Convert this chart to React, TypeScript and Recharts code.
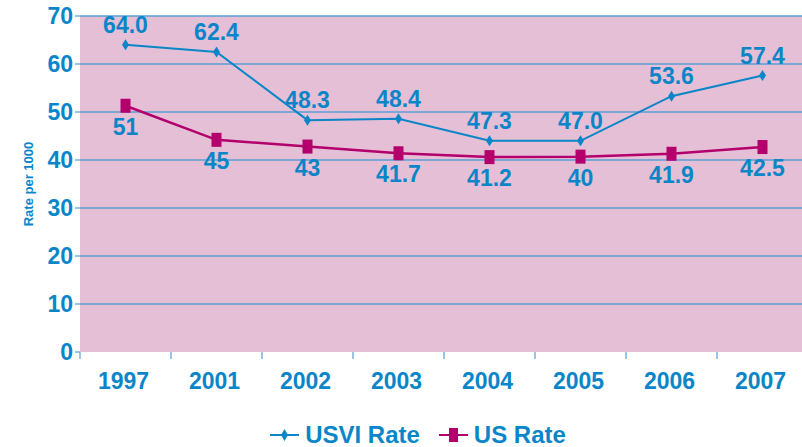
import { LineChart, Line, XAxis, YAxis, CartesianGrid, Legend, LabelList } from "recharts";

const years = ["1997", "2001", "2002", "2003", "2004", "2005", "2006", "2007"];
// plotted positions
const usviRate = [64.0, 62.5, 48.3, 48.6, 44.0, 44.0, 53.3, 57.6];
const usRate = [51.3, 44.2, 42.8, 41.4, 40.6, 40.7, 41.3, 42.7];
// printed data labels
const usviLabels = ["64.0", "62.4", "48.3", "48.4", "47.3", "47.0", "53.6", "57.4"];
const usLabels = ["51", "45", "43", "41.7", "41.2", "40", "41.9", "42.5"];
const yTicks = [0, 10, 20, 30, 40, 50, 60, 70];
const gridValues = [10, 20, 30, 40, 50, 60, 70];

const data = years.map((year, i) => ({
  year,
  usvi: usviRate[i],
  us: usRate[i],
  usviLabel: usviLabels[i],
  usLabel: usLabels[i],
}));

const BLUE = "#0a86c8";
const MAGENTA = "#b3006c";
const PINK = "#e4bfd6";
const GRID = "#5a9ed3";
const FONT = "'Liberation Sans', Arial, sans-serif";

const CHART_W = 810;
const CHART_H = 447;
const Y_W = 80;
const MARGIN = { top: 16, right: 2, left: 0, bottom: 0 };
const BAND = (CHART_W - MARGIN.left - MARGIN.right - Y_W) / years.length;

function XTick({ x, y, payload }: any) {
  return (
    <g>
      <line x1={x - BAND / 2} x2={x - BAND / 2} y1={y} y2={y + 7} stroke={GRID} strokeWidth={1.2} />
      <text x={x - 2} y={y + 37} textAnchor="middle" fill={BLUE} fontSize={23} fontWeight="bold" fontFamily={FONT}>
        {payload.value}
      </text>
    </g>
  );
}

function Diamond({ cx, cy }: any) {
  if (cx == null || cy == null) return null;
  return <path d={`M${cx},${cy - 5.5} L${cx + 3.5},${cy} L${cx},${cy + 5.5} L${cx - 3.5},${cy} Z`} fill={BLUE} />;
}

function Square({ cx, cy }: any) {
  if (cx == null || cy == null) return null;
  return <rect x={cx - 5} y={cy - 7} width={10} height={14} fill={MAGENTA} />;
}

function TopLabel({ x, y, value }: any) {
  return (
    <text x={x} y={y - 12} textAnchor="middle" fill={BLUE} fontSize={23} fontWeight="bold" fontFamily={FONT}>
      {value}
    </text>
  );
}

function BottomLabel({ x, y, value }: any) {
  return (
    <text x={x} y={y + 29} textAnchor="middle" fill={BLUE} fontSize={23} fontWeight="bold" fontFamily={FONT}>
      {value}
    </text>
  );
}

function AxisTitle({ viewBox }: any) {
  const cx = viewBox.x + 28;
  const cy = viewBox.y + viewBox.height / 2;
  return (
    <text
      x={cx}
      y={cy}
      transform={`rotate(-90, ${cx}, ${cy})`}
      textAnchor="middle"
      dominantBaseline="central"
      fill={BLUE}
      fontSize={13}
      fontWeight="bold"
      fontFamily={FONT}
    >
      Rate per 1000
    </text>
  );
}

function LegendBox() {
  const item = (label: string, color: string, marker: "diamond" | "square") => (
    <span style={{ display: "inline-flex", alignItems: "center", marginRight: 19 }}>
      <svg width={29} height={16} style={{ marginRight: 6 }}>
        <line x1={0} x2={29} y1={8} y2={8} stroke={color} strokeWidth={2} />
        {marker === "diamond" ? (
          <path d="M14.5,2 L18,8 L14.5,14 L11,8 Z" fill={color} />
        ) : (
          <rect x={10} y={1} width={9} height={14} fill={color} />
        )}
      </svg>
      <span>{label}</span>
    </span>
  );
  return (
    <div
      style={{
        display: "flex",
        justifyContent: "center",
        height: 24,
        lineHeight: "24px",
        color: BLUE,
        fontSize: 24,
        fontWeight: "bold",
        fontFamily: FONT,
      }}
    >
      {item("USVI Rate", BLUE, "diamond")}
      {item("US Rate", MAGENTA, "square")}
    </div>
  );
}

export default function App() {
  return (
    <div style={{ position: "absolute", left: 0, top: 0, width: 802, height: 447, overflow: "hidden", background: "#fff" }}>
      <LineChart width={CHART_W} height={CHART_H} data={data} margin={MARGIN}>
        <CartesianGrid
          vertical={false}
          horizontalValues={gridValues}
          stroke={GRID}
          strokeWidth={1.5}
          fill={PINK}
          fillOpacity={1}
        />
        <XAxis
          dataKey="year"
          scale="band"
          axisLine={false}
          tickLine={false}
          tickSize={0}
          tickMargin={0}
          height={71}
          interval={0}
          tick={<XTick />}
        />
        <YAxis
          width={Y_W}
          domain={[0, 70]}
          ticks={yTicks}
          axisLine={false}
          tickSize={5}
          tickLine={{ stroke: GRID, strokeWidth: 1.2 }}
          tick={{ fill: BLUE, fontSize: 23, fontWeight: "bold", fontFamily: FONT }}
          label={{ content: <AxisTitle /> }}
        />
        <Legend
          verticalAlign="bottom"
          content={<LegendBox />}
          wrapperStyle={{ left: 0, width: CHART_W, paddingLeft: 45, boxSizing: "border-box" }}
        />
        <Line
          name="USVI Rate"
          dataKey="usvi"
          stroke={BLUE}
          strokeWidth={2}
          dot={<Diamond />}
          activeDot={false}
          isAnimationActive={false}
        >
          <LabelList dataKey="usviLabel" content={<TopLabel />} />
        </Line>
        <Line
          name="US Rate"
          dataKey="us"
          stroke={MAGENTA}
          strokeWidth={2.5}
          dot={<Square />}
          activeDot={false}
          isAnimationActive={false}
        >
          <LabelList dataKey="usLabel" content={<BottomLabel />} />
        </Line>
      </LineChart>
    </div>
  );
}
